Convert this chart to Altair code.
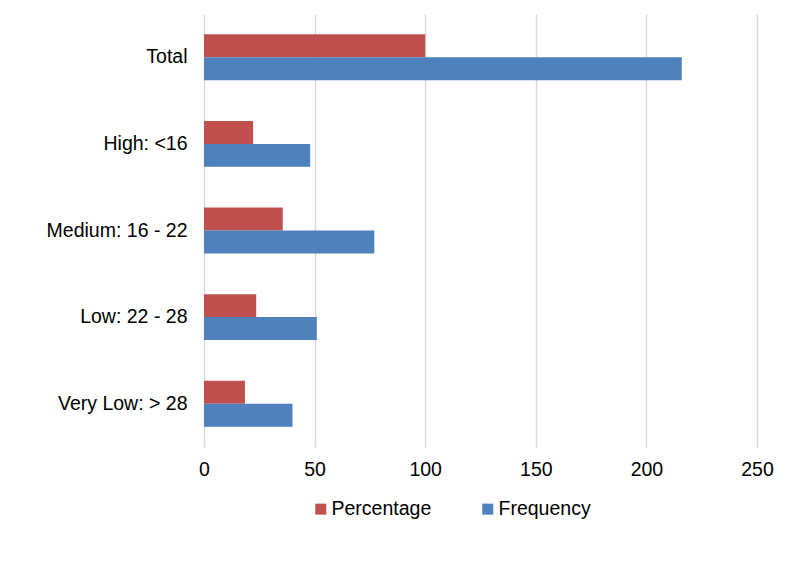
import altair as alt
import pandas as pd

categories = ["Total", "High: <16", "Medium: 16 - 22", "Low: 22 - 28", "Very Low: > 28"]
series = ["Percentage", "Frequency"]
percentage = [100, 22.2, 35.6, 23.6, 18.5]
frequency = [216, 48, 77, 51, 40]
x_ticks = [0, 50, 100, 150, 200, 250]
colors = ["#C0504D", "#4F81BD"]

rows = []
for c, p, f in zip(categories, percentage, frequency):
    rows.append({"category": c, "series": "Percentage", "value": p})
    rows.append({"category": c, "series": "Frequency", "value": f})
df = pd.DataFrame(rows)

FONT = "Liberation Sans"
FS = 19.5

chart = alt.Chart(df).mark_bar().encode(
    y=alt.Y("category:N", sort=categories, title=None,
            scale=alt.Scale(paddingInner=0.47, paddingOuter=0.235),
            axis=alt.Axis(ticks=False, domain=False, labelFontSize=FS,
                          labelColor="#000000", labelPadding=17, labelFont=FONT)),
    yOffset=alt.YOffset("series:N", sort=series),
    x=alt.X("value:Q", title=None,
            scale=alt.Scale(domain=[0, 250], nice=False),
            axis=alt.Axis(values=x_ticks, ticks=False, domain=False, grid=True,
                          gridColor="#D9D9D9", gridWidth=1.5, labelFontSize=FS,
                          labelColor="#000000", labelPadding=13, labelFont=FONT,
                          labelFlush=False)),
    color=alt.Color("series:N", sort=series,
                    scale=alt.Scale(domain=series, range=colors),
                    legend=alt.Legend(title=None, orient="none", direction="horizontal",
                                      legendX=107, legendY=485, symbolType="square",
                                      symbolSize=121, labelFontSize=FS, labelFont=FONT,
                                      labelColor="#000000", columnPadding=46,
                                      labelOffset=1, symbolStrokeWidth=0)),
).properties(
    width=553, height=433,
    autosize=alt.AutoSizeParams(type="none"),
    padding={"left": 196, "top": 6, "right": 27, "bottom": 132},
).configure(background="white").configure_view(stroke=None)

chart.save("out.html", embed_options={"renderer": "svg", "actions": False})
